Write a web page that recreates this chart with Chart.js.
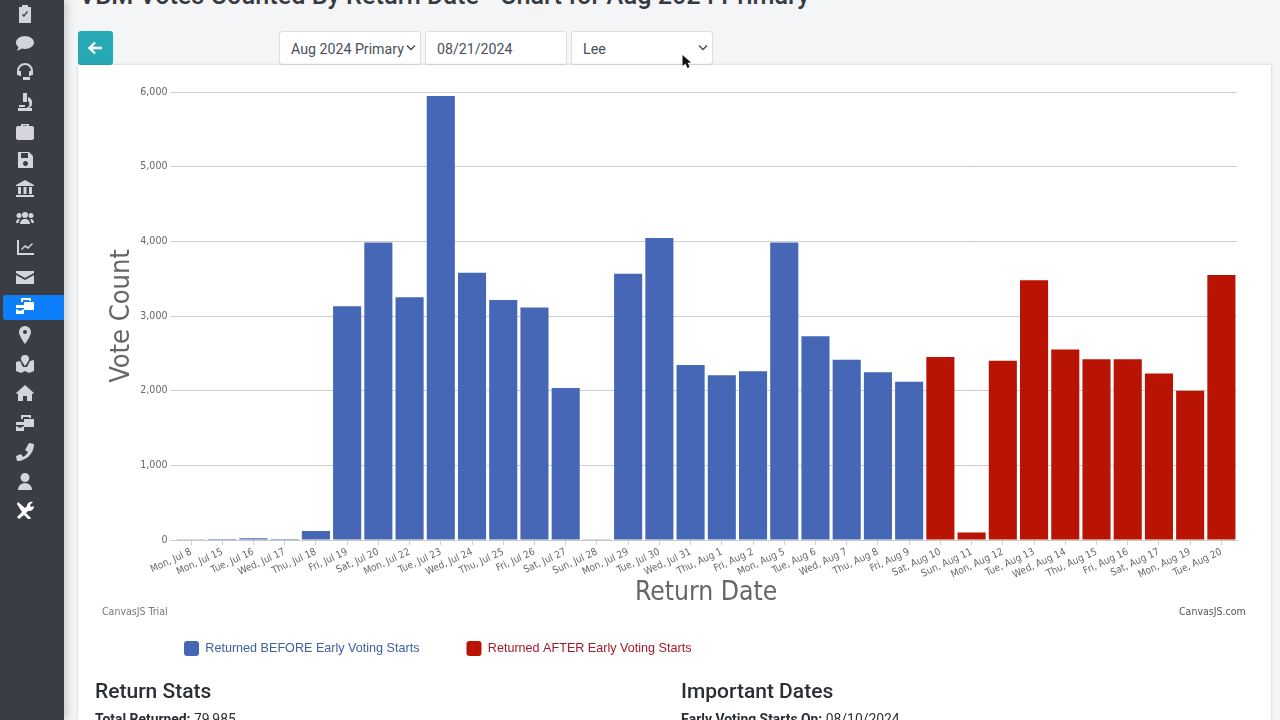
<!DOCTYPE html>
<html><head><meta charset="utf-8">
<script src="https://cdn.jsdelivr.net/npm/chart.js@4"></script>
<style>
html,body{margin:0;padding:0;width:1280px;height:720px;overflow:hidden;background:#f4f5f7;font-family:Roboto,"Liberation Sans",sans-serif;color:#212529}
.abs{position:absolute;white-space:nowrap}
#side{left:0;top:0;width:64px;height:720px;background:#3a3d44;box-shadow:3px 0 8px rgba(0,0,0,.18)}
#active{left:3px;top:295px;width:61px;height:25px;background:#0d7ffb;border-radius:3px 0 0 3px}
#card{left:78px;top:65px;width:1193px;height:655px;background:#fff;box-shadow:0 0 3px rgba(0,0,0,.18)}
#chartBox{left:78px;top:65px;width:1193px;height:616px}
.ctl{height:32px;line-height:34px;background:#fff;border:1px solid #dcdfe3;border-radius:3px;font-size:14.2px;color:#495057;padding-left:11px;box-sizing:content-box;overflow:hidden}
.chev{position:absolute;right:4px;top:12px}
svg.ic{position:absolute;left:16px;width:18px;height:18px;fill:#d3d5da}
</style></head><body>
<div class="abs" style="left:79px;top:-19px;font-size:25.2px;font-weight:500;color:#343a40">VBM Votes Counted By Return Date - Chart for Aug 2024 Primary</div>
<div class="abs" id="side"></div>
<div class="abs" id="active"></div>
<div class="abs" id="icons" style="left:0;top:0"></div>
<div class="abs" style="left:78px;top:31px;width:35px;height:34px;background:#27a9b5;border-radius:3px">
<svg width="35" height="34" style="position:absolute;left:0;top:0"><path d="M24 17H12M17 11.5L11.5 17L17 22.5" stroke="#fff" stroke-width="2.4" fill="none"/></svg></div>
<div class="abs ctl" style="left:279px;top:31px;width:129px"><span style="display:inline-block;width:113px;overflow:hidden;vertical-align:top">Aug 2024 Primary</span><svg class="chev" width="10" height="8"><path d="M1 1.5L5 5.5L9 1.5" stroke="#444" stroke-width="1.3" fill="none"/></svg></div>
<div class="abs ctl" style="left:425px;top:31px;width:129px">08/21/2024</div>
<div class="abs ctl" style="left:571px;top:31px;width:129px">Lee<svg class="chev" width="10" height="8"><path d="M1 1.5L5 5.5L9 1.5" stroke="#444" stroke-width="1.3" fill="none"/></svg></div>
<div class="abs" id="card"></div>
<div class="abs" id="chartBox"><canvas id="c"></canvas></div>
<div class="abs" style="left:102px;top:605px;font-size:10.5px;color:#777;font-family:'DejaVu Sans Condensed','DejaVu Sans'">CanvasJS Trial</div>
<div class="abs" style="left:1179px;top:605px;font-size:10.5px;color:#555;font-family:'DejaVu Sans Condensed','DejaVu Sans'">CanvasJS.com</div>
<svg class="abs" width="14" height="18" style="left:681px;top:54px"><path d="M1.5 1L1.5 12L4.4 9.6L6.5 14L8.6 13L6.6 8.8L10 8.4Z" fill="#111"/></svg>
<div class="abs" style="left:95px;top:679px;font-size:21px;font-weight:500;color:#2b2f33">Return Stats</div>
<div class="abs" style="left:681px;top:679px;font-size:21px;font-weight:500;color:#2b2f33">Important Dates</div>
<div class="abs" style="left:95px;top:711px;font-size:13.9px;color:#2b2f33"><b>Total Returned:</b> 79,985</div>
<div class="abs" style="left:681px;top:711px;font-size:13.9px;color:#2b2f33"><b>Early Voting Starts On:</b> 08/10/2024</div>
<script>
const categories=["Mon, Jul 8","Mon, Jul 15","Tue, Jul 16","Wed, Jul 17","Thu, Jul 18","Fri, Jul 19","Sat, Jul 20","Mon, Jul 22","Tue, Jul 23","Wed, Jul 24","Thu, Jul 25","Fri, Jul 26","Sat, Jul 27","Sun, Jul 28","Mon, Jul 29","Tue, Jul 30","Wed, Jul 31","Thu, Aug 1","Fri, Aug 2","Mon, Aug 5","Tue, Aug 6","Wed, Aug 7","Thu, Aug 8","Fri, Aug 9","Sat, Aug 10","Sun, Aug 11","Mon, Aug 12","Tue, Aug 13","Wed, Aug 14","Thu, Aug 15","Fri, Aug 16","Sat, Aug 17","Mon, Aug 19","Tue, Aug 20"];
const beforeEarly=[3,12,25,12,120,3130,3985,3250,5945,3580,3215,3115,2035,4,3565,4045,2345,2205,2260,3985,2730,2415,2245,2120,null,null,null,null,null,null,null,null,null,null];
const afterEarly=[null,null,null,null,null,null,null,null,null,null,null,null,null,null,null,null,null,null,null,null,null,null,null,null,2450,100,2400,3480,2550,2420,2420,2230,2000,3550];
const yTicks=[0,1000,2000,3000,4000,5000,6000];

const iconYs=[14,43,72,102,131,160,189,218,247,277,306,335,364,393,423,452,481,510];
const iconPaths=[
"M3 2h3V0h6v2h3v16H3zM6 10l2 2 4-5-1-1-3 4-1-1z",
"M9 2c5 0 9 3 9 6.5S14 15 9 15c-1 0-2 0-3-.4L1 17l1.5-4C1 12 0 10 0 8.500C0 5 4 2 9 2z",
"M9 0a8 8 0 0 1 8 8v4h-2V8A6 6 0 0 0 3 8v4H1V8a8 8 0 0 1 8-8zM5 8v5H3V8zM15 8v5h-2V8zM7 14h7v3H7z",
"M7 0h4v9H7zM12 4a6 6 0 0 1 1 11h3v3H2v-3h8a4 4 0 0 0 2-7zM3 12h6v2H3z",
"M2 4h3V2h8v2h3a2 2 0 0 1 2 2v10a2 2 0 0 1-2 2H2a2 2 0 0 1-2-2V6a2 2 0 0 1 2-2zM7 4h4V3.500H7z",
"M2 1h11l4 4v12H2zM5 2v5h7V2zM9.500 10a2.500 2.500 0 1 0 .01 0z",
"M9 0l9 5v1H0V5zM2 7h3v7H2zM7.500 7h3v7h-3zM13 7h3v7h-3zM0 15h18v2H0z",
"M9 3a3 3 0 1 1 0 6a3 3 0 0 1 0-6zM3 4a2.500 2.500 0 1 1 0 5a2.500 2.500 0 0 1 0-5zM15 4a2.500 2.500 0 1 1 0 5a2.500 2.500 0 0 1 0-5zM4 15c0-3 2-5 5-5s5 2 5 5zM0 14c0-2 1-4 3-4l1 .5C3 11.500 2.500 13 2.500 14zM18 14c0-2-1-4-3-4l-1 .5c1 1 1.500 2.500 1.500 3.500z",
"M1 2h2v13h15v2H1zM5 11l4-4 3 2 4-4 1 1-5 5-3-2-3 3z",
"M0 3h18v2L9 10 0 5zM0 7l9 5 9-5v9H0z",
"M5 1h10v3h-2V3H7v2H5zM8 5h10v8H8zM0 8h8v3H0zM0 12l4 2 4-2v5H0z",
"M9 0a6 6 0 0 1 6 6c0 4-6 12-6 12S3 10 3 6a6 6 0 0 1 6-6zm0 4a2 2 0 1 0 .01 0z",
"M9 0a4 4 0 0 1 4 4c0 2-4 7-4 7S5 6 5 4a4 4 0 0 1 4-4zM0 7l4-1 3 6h4l3-6 4-1v11l-5 2-4-2-4 2-5-2z",
"M9 1l9 8-1 1-1-.5V17h-5v-5H7v5H2V9.500L1 10 0 9z",
"M5 1h10v3h-2V3H7v2H5zM8 5h10v8H8zM0 8h8v3H0zM0 12l4 2 4-2v5H0z",
"M13 0l5 1c0 9-7 17-17 17l-1-5 5-2 2 3c2-1 4-3 5-5l-3-2z",
"M9 1a4.500 4.500 0 1 1 0 9a4.500 4.500 0 0 1 0-9zM2 18c0-4 3-7 7-7s7 3 7 7z",
"M2 1l7 6 2-2C11 2 14 0 17 1l-3 3 1 2 3-1c0 3-2 5-5 5l-1 0-2 2 5 5-2 2-5-5-5 4-2-2 5-5L1 3z"];
document.getElementById('icons').innerHTML=iconYs.map((y,i)=>`<svg class="ic" viewBox="0 0 18 18" style="top:${y-9}px;${i===17||i===10?'fill:#fff':''}"><path d="${iconPaths[i]}"/></svg>`).join('');

const PLOT_LEFT=97.4, PLOT_TOP=27, X_H=69;
const placeLegend={id:'placeLegend',afterUpdate(ch){ch.legend.left=59;ch.legend.top=529;}};
new Chart(document.getElementById('c'),{
 type:'bar',
 data:{labels:categories,datasets:[
  {label:'Returned BEFORE Early Voting Starts',data:beforeEarly,backgroundColor:'#4667b5',legendColor:'#3f5f9f'},
  {label:'Returned AFTER Early Voting Starts',data:afterEarly,backgroundColor:'#b91304',legendColor:'#a5182a'}]},
 options:{responsive:true,maintainAspectRatio:false,animation:false,
  datasets:{bar:{categoryPercentage:1,barPercentage:0.9,grouped:false}},
  layout:{padding:{top:PLOT_TOP,right:34,left:0,bottom:0}},
  plugins:{tooltip:{enabled:false},
   legend:{position:'bottom',align:'start',
    labels:{boxWidth:15,boxHeight:15,padding:47,useBorderRadius:true,borderRadius:3,font:{family:'"Liberation Sans"',size:12.6},
     generateLabels(ch){return Chart.defaults.plugins.legend.labels.generateLabels(ch).map((l,i)=>({...l,fontColor:ch.data.datasets[i].legendColor,lineWidth:0}));}}}},
  scales:{
   x:{grid:{display:true,drawOnChartArea:false,drawTicks:true,tickLength:5,color:'#cfcfcf',offset:false},
      border:{color:'#c8c8c8',width:1},
      ticks:{autoSkip:false,minRotation:25,maxRotation:25,padding:1,color:'#666',font:{family:'"DejaVu Sans Condensed","DejaVu Sans"',size:10}},
      title:{display:true,text:'Return Date',color:'#666',font:{family:'"DejaVu Sans Condensed","DejaVu Sans"',size:26.3},padding:{top:0,bottom:0}},
      afterFit(s){s.height=X_H;}},
   y:{min:0,max:6000,afterBuildTicks(s){s.ticks=yTicks.map(v=>({value:v}));},
      grid:{color:'#cfcfcf',tickLength:5,tickColor:'#cfcfcf'},
      border:{display:false},
      ticks:{padding:3,color:'#666',font:{family:'"DejaVu Sans Condensed","DejaVu Sans"',size:10.5},callback:v=>v.toLocaleString('en-US')},
      title:{display:true,text:'Vote Count',color:'#666',font:{family:'"DejaVu Sans Condensed","DejaVu Sans"',size:27},padding:{top:28,bottom:0}},
      afterFit(s){s.width=PLOT_LEFT;}}
  }},
 plugins:[placeLegend]
});
</script>
</body></html>
